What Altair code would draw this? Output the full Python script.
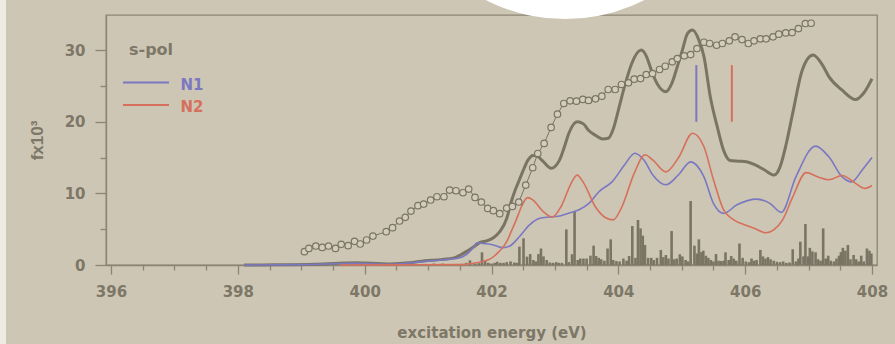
import altair as alt
import pandas as pd

# ---- data ----
tot_e = [398.1, 398.6, 399.2, 399.6, 399.85, 400.1, 400.4, 400.7, 400.95, 401.2, 401.41, 401.51,
         401.61, 401.72, 401.82, 401.92, 402.03, 402.13, 402.24, 402.31, 402.38, 402.44, 402.5,
         402.58, 402.65, 402.72, 402.81, 402.94, 403.07, 403.15, 403.22, 403.35, 403.45, 403.53,
         403.64, 403.75, 403.84, 403.92, 404.0, 404.1, 404.21, 404.36, 404.45, 404.52, 404.62,
         404.75, 404.85, 404.93, 405.01, 405.09, 405.17, 405.27, 405.35, 405.45, 405.56, 405.66,
         405.76, 405.9, 406.02, 406.15, 406.3, 406.46, 406.55, 406.65, 406.75, 406.9, 407.07,
         407.22, 407.32, 407.53, 407.74, 407.86, 407.94, 408.0]
tot_f = [0.0, 0.02, 0.1, 0.25, 0.32, 0.25, 0.15, 0.3, 0.6, 0.75, 1.0, 1.4,
         1.9, 2.56, 3.15, 3.35, 3.8, 4.65, 6.5, 8.8, 10.6, 11.9, 13.2,
         14.7, 15.3, 15.2, 14.5, 13.5, 14.6, 16.5, 18.4, 20.0, 19.7, 18.8,
         18.1, 17.6, 17.7, 19.0, 21.6, 25.0, 28.1, 30.0, 29.0, 27.2, 25.2,
         24.2, 25.5, 27.7, 30.0, 32.3, 32.8, 31.4, 29.1, 23.5, 19.3, 16.0,
         14.6, 14.5, 14.4, 14.0, 13.3, 12.55, 13.7, 17.0, 21.2, 27.2, 29.3,
         27.9, 26.3, 24.4, 23.1, 23.9, 25.0, 26.0]

n1_e = [398.1, 399.0, 399.85, 400.4, 400.95, 401.2, 401.45, 401.61, 401.72, 401.77, 401.87,
        402.03, 402.18, 402.29, 402.44, 402.6, 402.75, 402.91, 403.05, 403.2, 403.38, 403.55,
        403.69, 403.9, 404.1, 404.26, 404.4, 404.55, 404.75, 404.95, 405.14, 405.35, 405.5,
        405.66, 405.87, 406.18, 406.39, 406.57, 406.8, 407.11, 407.32, 407.53, 407.68, 407.84, 408.0]
n1_f = [0.0, 0.05, 0.25, 0.1, 0.5, 0.7, 0.9, 1.5, 2.5, 3.1, 3.0,
        2.8, 2.4, 2.65, 3.95, 5.6, 6.5, 6.7, 6.8, 7.2, 7.7, 8.7,
        10.2, 11.6, 14.0, 15.6, 14.7, 12.5, 11.2, 12.6, 14.4, 12.3, 8.6,
        7.2, 8.4, 9.2, 8.6, 7.35, 12.3, 16.6, 15.1, 12.3, 11.6, 13.2, 15.0]

n2_e = [399.6, 400.5, 401.5, 401.72, 401.98, 402.11, 402.24, 402.31, 402.39, 402.47, 402.57,
        402.65, 402.8, 402.96, 403.1, 403.25, 403.35, 403.45, 403.64, 403.8, 403.92, 404.05,
        404.25, 404.42, 404.55, 404.75, 404.95, 405.17, 405.35, 405.5, 405.66, 405.82, 406.0,
        406.15, 406.33, 406.45, 406.59, 406.75, 406.96, 407.15, 407.32, 407.53, 407.74, 407.89, 408.0]
n2_f = [0.0, 0.02, 0.05, 0.25, 0.85, 1.8, 3.25, 4.65, 6.3, 8.1, 9.4,
        9.1, 7.6, 6.7, 8.2, 11.3, 12.55, 11.5, 8.1, 6.6, 6.3, 8.0,
        12.8, 15.4, 14.6, 13.0, 15.0, 18.4, 16.5, 11.9, 7.7, 6.3, 5.6,
        5.1, 4.5, 4.9, 6.3, 9.5, 12.9, 12.3, 11.9, 12.5, 11.4, 10.7, 11.1]

exp_e = [399.05, 399.12, 399.23, 399.33, 399.43, 399.54, 399.63, 399.74, 399.84, 399.93,
         400.03, 400.13, 400.34, 400.44, 400.55, 400.64, 400.73, 400.84, 400.93, 401.04,
         401.14, 401.25, 401.34, 401.44, 401.55, 401.64, 401.74, 401.84, 401.94, 402.03,
         402.13, 402.24, 402.33, 402.43, 402.54, 402.65, 402.73, 402.83, 402.94, 403.04,
         403.14, 403.24, 403.34, 403.44, 403.53, 403.64, 403.74, 403.84, 403.95, 404.05,
         404.16, 404.25, 404.35, 404.44, 404.54, 404.65, 404.74, 404.85, 404.93, 405.04,
         405.14, 405.24, 405.35, 405.44, 405.55, 405.64, 405.75, 405.84, 405.95, 406.05,
         406.14, 406.24, 406.33, 406.44, 406.53, 406.64, 406.74, 406.84, 406.95, 407.04]
exp_f = [1.86, 2.32, 2.65, 2.46, 2.65, 2.32, 2.88, 2.70, 3.30, 2.93,
         3.49, 4.04, 4.65, 5.21, 6.14, 6.65, 7.53, 8.28, 8.51, 9.07,
         9.53, 9.53, 10.46, 10.37, 10.09, 10.60, 9.44, 8.79, 7.90, 7.58,
         7.16, 7.95, 8.18, 8.79, 11.16, 13.58, 15.57, 16.97, 19.20, 21.06,
         22.55, 22.92, 22.87, 23.11, 22.97, 23.20, 23.57, 24.50, 24.50, 25.20,
         25.43, 25.94, 26.03, 26.59, 26.73, 27.29, 27.75, 28.36, 28.82, 29.20,
         29.38, 30.22, 31.10, 30.92, 30.68, 30.92, 31.29, 31.85, 31.47, 30.92,
         31.29, 31.57, 31.57, 31.85, 32.22, 32.40, 32.45, 33.01, 33.71, 33.75]

stick_e = [400.93, 401.09, 401.23, 401.38, 401.52, 401.60, 401.66, 401.74, 401.80, 401.85,
           401.90, 401.95, 402.00, 402.05, 402.09, 402.14, 402.19, 402.24, 402.30, 402.36,
           402.40, 402.44, 402.505, 402.56, 402.61, 402.66, 402.70, 402.74, 402.78, 402.82,
           402.87, 402.92, 402.97, 403.02, 403.06, 403.11, 403.18, 403.22, 403.27, 403.31,
           403.36, 403.40, 403.45, 403.50, 403.56, 403.61, 403.65, 403.69, 403.73, 403.78,
           403.83, 403.88, 403.92, 403.97, 404.02, 404.08, 404.13, 404.17, 404.22, 404.27,
           404.31, 404.35, 404.385, 404.42, 404.47, 404.52, 404.56, 404.61, 404.67, 404.71,
           404.75, 404.79, 404.84, 404.88, 404.92, 404.97, 405.01, 405.06, 405.10, 405.14,
           405.20, 405.24, 405.27, 405.31, 405.34, 405.38, 405.42, 405.46, 405.50, 405.54,
           405.58, 405.62, 405.66, 405.69, 405.74, 405.78, 405.82, 405.86, 405.91, 405.96,
           406.01, 406.06, 406.10, 406.14, 406.18, 406.24, 406.28, 406.32, 406.36, 406.40,
           406.45, 406.50, 406.55, 406.60, 406.65, 406.70, 406.75, 406.80, 406.84, 406.87,
           406.92, 406.95, 406.99, 407.02, 407.06, 407.11, 407.15, 407.19, 407.23, 407.27,
           407.31, 407.35, 407.40, 407.44, 407.48, 407.51, 407.54, 407.58, 407.62, 407.66,
           407.71, 407.75, 407.79, 407.83, 407.87, 407.92, 407.96, 407.99]
stick_f = [0.15, 0.2, 0.2, 0.12, 0.15, 0.3, 0.65, 0.2, 0.25, 1.77,
           0.55, 0.3, 0.2, 0.3, 0.45, 0.3, 0.3, 0.4, 0.5, 0.35,
           0.3, 2.56, 3.72, 1.16, 1.53, 0.7, 0.5, 1.53, 2.3, 1.2,
           0.7, 0.35, 0.3, 0.4, 0.3, 0.3, 4.97, 0.4, 1.5, 7.53,
           0.7, 0.9, 0.9, 0.9, 1.3, 2.7, 1.25, 1.0, 0.8, 0.6,
           2.3, 3.58, 0.7, 0.55, 0.5, 0.9, 0.6, 1.25, 5.44, 1.0,
           6.28, 5.11, 4.1, 2.8, 1.0, 1.0, 0.7, 1.0, 2.1, 1.1,
           1.4, 0.9, 4.74, 0.8, 0.9, 1.5, 1.2, 0.7, 0.5, 8.93,
           2.7, 1.6, 3.58, 1.8, 2.0, 1.3, 1.0, 0.7, 0.5, 1.53,
           0.6, 0.55, 0.6, 1.77, 0.7, 1.25, 0.9, 0.6, 3.0, 1.0,
           0.5, 0.4, 0.9, 0.6, 0.7, 2.1, 1.2, 0.9, 1.1, 0.8,
           0.6, 0.45, 0.4, 0.5, 0.3, 0.35, 2.2, 0.5, 0.9, 3.25,
           1.2, 5.72, 1.2, 2.4, 1.9, 1.77, 0.8, 0.6, 5.11, 0.9,
           1.3, 0.6, 0.5, 0.9, 1.3, 1.8, 2.4, 2.0, 2.8, 0.8,
           1.4, 0.8, 0.5, 1.3, 0.5, 2.3, 2.0, 1.6]

marker_series = ["N1", "N2"]
marker_e = [405.23, 405.79]
marker_lo = [20.0, 20.0]
marker_hi = [27.9, 27.9]

x_tick_values = [396, 396.5, 397, 397.5, 398, 398.5, 399, 399.5, 400, 400.5, 401, 401.5, 402,
                 402.5, 403, 403.5, 404, 404.5, 405, 405.5, 406, 406.5, 407, 407.5, 408]
y_tick_values = [0, 5, 10, 15, 20, 25, 30]
legend_title = "s-pol"
legend_labels = ["N1", "N2"]
x_title = "excitation energy (eV)"
y_title = "fx10³"

# ---- styling ----
BG = "#cdc6b4"
GRAY = "#7a7464"
BLUE = "#7b78c2"
RED = "#d6705c"
AX = "#8c8573"
TXT = "#7d7767"
FONT = "DejaVu Sans"

tot = pd.DataFrame({"E": tot_e, "F": tot_f})
lines = pd.concat([
    pd.DataFrame({"E": n1_e, "F": n1_f, "s": "N1"}),
    pd.DataFrame({"E": n2_e, "F": n2_f, "s": "N2"}),
])
exp = pd.DataFrame({"E": exp_e, "F": exp_f})
sticks = pd.DataFrame({"E": stick_e, "F": stick_f})
markers = pd.DataFrame({"E": marker_e, "lo": marker_lo, "hi": marker_hi, "s": marker_series})
one = pd.DataFrame({"k": [0]})

xscale = alt.Scale(domain=[396, 408], nice=False, zero=False)
yscale = alt.Scale(domain=[0, 34.9], nice=False, zero=False)
cscale = alt.Scale(domain=marker_series, range=[BLUE, RED])

xaxis = alt.Axis(
    values=x_tick_values, title=x_title,
    labelExpr="datum.value % 2 === 0 ? format(datum.value, 'd') : ''",
    tickSize={"condition": {"test": "datum.value % 2 === 0", "value": 9}, "value": 5},
    labelFlush=False, labelPadding=10, labelFontSize=15,
    titleX=385.5, titleY=67, titleBaseline="middle", titleFontSize=15,
)
yaxis = alt.Axis(
    values=y_tick_values, title=y_title,
    labelExpr="datum.value % 10 === 0 ? format(datum.value, 'd') : ''",
    tickSize={"condition": {"test": "datum.value % 10 === 0", "value": 11}, "value": 6},
    labelPadding=10, labelFontSize=15,
    titleX=-69, titleY=125, titleAngle=270, titleBaseline="middle", titleAlign="center",
    titleFont="Liberation Sans", titleFontSize=17,
)
X = alt.X("E:Q", scale=xscale, axis=xaxis)
Y = alt.Y("F:Q", scale=yscale, axis=yaxis)

bars = alt.Chart(sticks).mark_bar(width=2.6, color=GRAY, clip=True).encode(
    x=X, y=Y, y2=alt.datum(0))

total = alt.Chart(tot).mark_line(color=GRAY, strokeWidth=3, interpolate="monotone").encode(x=X, y=Y)

partial = alt.Chart(lines).mark_line(strokeWidth=1.6, interpolate="monotone").encode(
    x=X, y=Y, color=alt.Color("s:N", scale=cscale, legend=None), detail="s:N")

exp_line = alt.Chart(exp).mark_line(color=GRAY, strokeWidth=1).encode(x=X, y=Y)
exp_pts = alt.Chart(exp).mark_point(shape="circle", filled=True, fill="#d3ccbb", stroke=GRAY,
                                    strokeWidth=1.2, size=42, opacity=1).encode(x=X, y=Y)

mark_rules = alt.Chart(markers).mark_rule(strokeWidth=2).encode(
    x=X, y=alt.Y("lo:Q", scale=yscale, axis=yaxis), y2="hi:Q",
    color=alt.Color("s:N", scale=cscale, legend=None))

# manual legend
leg_title = alt.Chart(one).mark_text(align="left", baseline="alphabetic", font=FONT, fontSize=16,
                                     fontWeight="bold", color=TXT).encode(
    x=alt.value(23), y=alt.value(40), text=alt.value(legend_title))
leg_r1 = alt.Chart(one).mark_rule(color=BLUE, strokeWidth=2).encode(
    x=alt.value(17), x2=alt.value(63), y=alt.value(67.5))
leg_r2 = alt.Chart(one).mark_rule(color=RED, strokeWidth=2).encode(
    x=alt.value(17), x2=alt.value(63), y=alt.value(90))
leg_t1 = alt.Chart(one).mark_text(align="left", baseline="alphabetic", font=FONT, fontSize=15,
                                  fontWeight="bold", color=BLUE).encode(
    x=alt.value(74.5), y=alt.value(74.5), text=alt.value(legend_labels[0]))
leg_t2 = alt.Chart(one).mark_text(align="left", baseline="alphabetic", font=FONT, fontSize=15,
                                  fontWeight="bold", color=RED).encode(
    x=alt.value(74.5), y=alt.value(97), text=alt.value(legend_labels[1]))

# decorations seen in the picture
blob = alt.Chart(one).mark_arc(radius=175, theta=0, theta2=6.2832, color="white", opacity=1).encode(
    x=alt.value(459), y=alt.value(-171))
strip = alt.Chart(one).mark_rect(color="#eeebe3").encode(
    x=alt.value(-106), x2=alt.value(-100), y=alt.value(-15), y2=alt.value(329))

chart = alt.layer(
    strip, bars, total, partial, exp_line, exp_pts, mark_rules,
    leg_title, leg_r1, leg_r2, leg_t1, leg_t2, blob
).properties(
    width=771, height=250,
    padding={"left": 106, "top": 15, "right": 18, "bottom": 79},
    autosize=alt.AutoSizeParams(type="none"),
    background=BG,
).configure_view(
    stroke=AX, strokeWidth=1.3
).configure_axis(
    grid=False, domainColor=AX, domainWidth=1.3, tickColor=AX, tickWidth=1.3,
    labelFont=FONT, labelFontWeight="bold", labelColor=TXT,
    titleFont=FONT, titleFontWeight="bold", titleColor=TXT,
)

chart.save("out.html", embed_options={"renderer": "svg", "actions": False})
